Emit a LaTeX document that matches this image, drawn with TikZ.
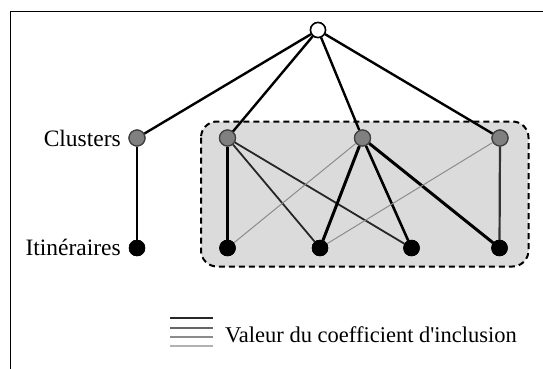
\documentclass[tikz,border=0pt]{standalone}
\usepackage{fontspec}
\setmainfont{Liberation Serif}
\usetikzlibrary{positioning,fit}

\begin{document}
\begin{tikzpicture}[
    x=1pt, y=-1pt,
    every node/.style={font=\fontsize{23.5}{27}\selectfont},
    root/.style={circle, draw=black, line width=1.5pt, fill=white, minimum size=15pt, inner sep=0pt},
    cluster/.style={circle, draw=black!75, line width=1.2pt, fill=black!50, minimum size=16pt, inner sep=0pt},
    itin/.style={circle, draw=black, fill=black, minimum size=16pt, inner sep=0pt},
    link/.style={line width=#1},
    link/.default=2.4pt,
    group/.style={draw=black, dashed, dash pattern=on 6pt off 4pt, line width=2pt, fill=black!14, rounded corners=16pt},
]
\useasboundingbox (0,0) rectangle (543,369);
\draw[line width=1.5pt] (10.5,369) -- (10.5,11.5) -- (543,11.5);

% grouped clusters
\draw[group] (201,121.5) rectangle (528.5,266.5);

\node[root] (r) at (318,30) {};
\node[cluster] (c0) at (137,138) {};
\node[cluster] (c1) at (227.5,138) {};
\node[cluster] (c2) at (362.5,138) {};
\node[cluster] (c3) at (500,138) {};
\node[itin] (i0) at (137,248) {};
\node[itin] (i1) at (227.5,248) {};
\node[itin] (i2) at (320,248) {};
\node[itin] (i3) at (411.5,248) {};
\node[itin] (i4) at (499.5,248) {};

\node[anchor=east, inner sep=0pt] (lc) at (121,138) {Clusters};
\node[anchor=east, inner sep=0pt] (li) at (121,247) {Itinéraires};

% root to clusters
\foreach \c in {c0,c1,c2,c3}
    \draw[link] (r) -- (\c);
\draw[link=2.2pt] (c0) -- (i0);

% inclusion links
\draw[link=3pt] (c1) -- (i1);
\draw[link=1.8pt, black!85] (c1) -- (i2);
\draw[link=1.8pt, black!85] (c1) -- (i3);
\draw[link=1pt, black!45] (c2) -- (i1);
\draw[link=3pt] (c2) -- (i2);
\draw[link=2.6pt] (c2) -- (i3);
\draw[link=3pt] (c2) -- (i4);
\draw[link=1pt, black!45] (c3) -- (i2);
\draw[link=2.2pt, black!80] (c3) -- (i4);

% redraw nodes on top
\foreach \n in {c0,c1,c2,c3}
    \node[cluster] at (\n) {};
\foreach \n in {i0,i1,i2,i3,i4}
    \node[itin] at (\n) {};
\node[root] at (r) {};

% legend
\coordinate (la) at (170,318);
\coordinate (lb) at (213,318);
\draw[line width=2.8pt, black!85] (la) -- (lb);
\draw[line width=2pt, black!60] ([yshift=-10]la) -- ([yshift=-10]lb);
\draw[line width=1.6pt, black!45] ([yshift=-19]la) -- ([yshift=-19]lb);
\draw[line width=1.4pt, black!30] ([yshift=-28]la) -- ([yshift=-28]lb);
\node[anchor=base west, inner sep=0pt, font=\fontsize{22.5}{27}\selectfont] (lv) at (225,342) {Valeur du coefficient d\textquotesingle inclusion};
\end{tikzpicture}
\end{document}
